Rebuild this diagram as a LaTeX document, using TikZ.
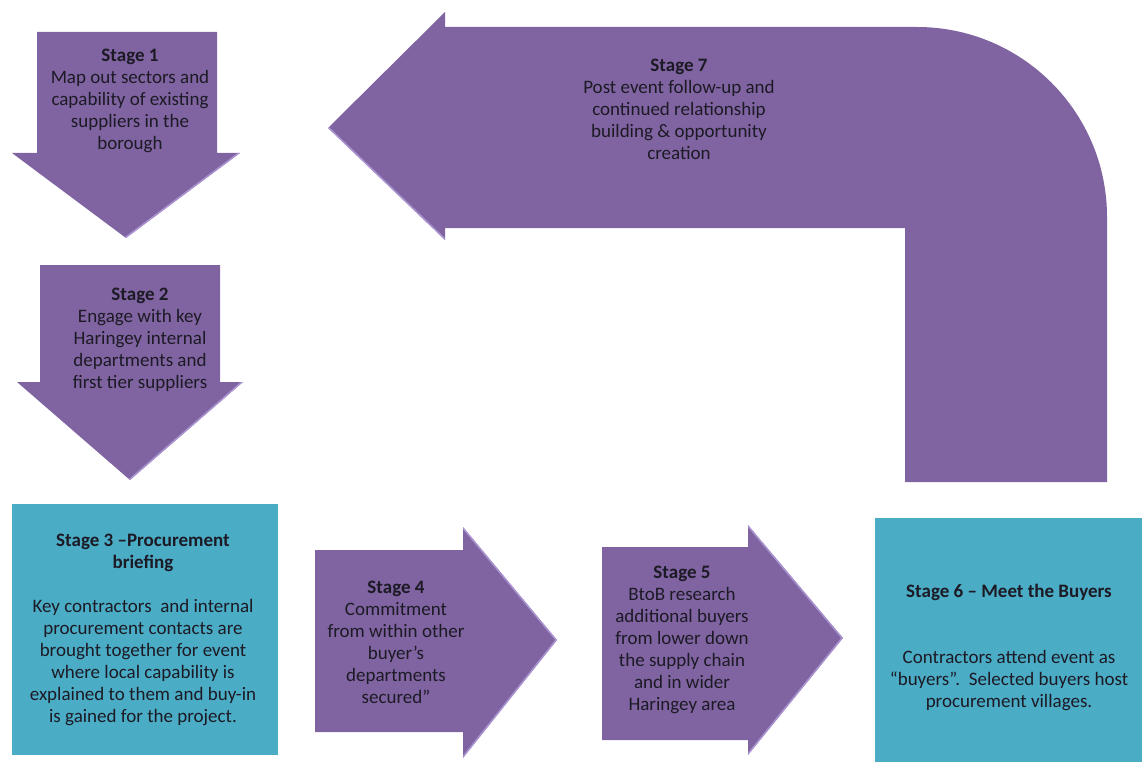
\documentclass[tikz,border=0pt]{standalone}
\usepackage{fontspec}
\setmainfont{Carlito}
\definecolor{stagepurple}{HTML}{8064A2}
\definecolor{stageteal}{HTML}{4BACC6}
\definecolor{bevel}{HTML}{B7A2E0}
\definecolor{ink}{HTML}{1C1A24}

\begin{document}
\begin{tikzpicture}[x=1pt,y=-1pt,
  arrowshape/.style={fill=stagepurple, draw=none},
  boxshape/.style={fill=stageteal, draw=none},
  bevelline/.style={draw=bevel, line width=3pt, line cap=round, opacity=0.75},
  stagetext/.style={align=center, text=ink, inner sep=0pt,
    font=\fontsize{19}{22}\selectfont}]
\useasboundingbox (0,0) rectangle (1142,762);

% Stage 7: bent arrow returning to the start
\path[arrowshape, path picture={\draw[bevelline] (328,128) -- (445,240);}]
  (328,128) -- (445,12) -- (445,27) -- (917,27)
  .. controls (1022,27) and (1107,112) .. (1107,217)
  -- (1107,482) -- (905,482) -- (905,228) -- (445,228) -- (445,240) -- cycle;

% Stage 1 and Stage 2: downward arrows
\path[arrowshape, path picture={\draw[bevelline] (240,153) -- (126,238);}]
  (37,32) -- (217,32) -- (217,153) -- (240,153) -- (126,238)
  -- (12,153) -- (37,153) -- cycle;
\path[arrowshape, path picture={\draw[bevelline] (243,382) -- (130,480);}]
  (40,265) -- (220,265) -- (220,382) -- (243,382) -- (130,480)
  -- (17,382) -- (40,382) -- cycle;

% Stage 4 and Stage 5: rightward arrows
\path[arrowshape, path picture={\draw[bevelline] (463,527) -- (557,640) -- (463,758);}]
  (315,550) -- (463,550) -- (463,527) -- (557,640) -- (463,758)
  -- (463,732) -- (315,732) -- cycle;
\path[arrowshape, path picture={\draw[bevelline] (748,525) -- (843,638) -- (748,755);}]
  (602,547) -- (748,547) -- (748,525) -- (843,638) -- (748,755)
  -- (748,740) -- (602,740) -- cycle;

% Stage 3 and Stage 6: boxes
\fill[stageteal] (12,504) rectangle (278,755);
\fill[stageteal] (875,518) rectangle (1142,762);

% Labels
\node[stagetext] (s1) at (130,101)
  {\textbf{Stage 1}\\Map out sectors and\\capability of existing\\suppliers in the\\borough};
\node[stagetext] (s2) at (140,340)
  {\textbf{Stage 2}\\Engage with key\\Haringey internal\\departments and\\first tier suppliers};
\node[stagetext] (s3) at (143,630)
  {\textbf{Stage 3 –Procurement}\\\textbf{briefing}\\[22pt]Key contractors\ \ and internal\\procurement contacts are\\brought together for event\\where local capability is\\explained to them and buy-in\\is gained for the project.};
\node[stagetext] (s4) at (396,642)
  {\textbf{Stage 4}\\Commitment\\from within other\\buyer’s\\departments\\secured”};
\node[stagetext] (s5) at (682,640)
  {\textbf{Stage 5}\\BtoB research\\additional buyers\\from lower down\\the supply chain\\and in wider\\Haringey area};
\node[stagetext] (s6) at (1009,647)
  {\textbf{Stage 6 – Meet the Buyers}\\[44pt]Contractors attend event as\\“buyers”.\ \ Selected buyers host\\procurement villages.};
\node[stagetext] (s7) at (679,109)
  {\textbf{Stage 7}\\Post event follow-up and\\continued relationship\\building \& opportunity\\creation};
\end{tikzpicture}
\end{document}
